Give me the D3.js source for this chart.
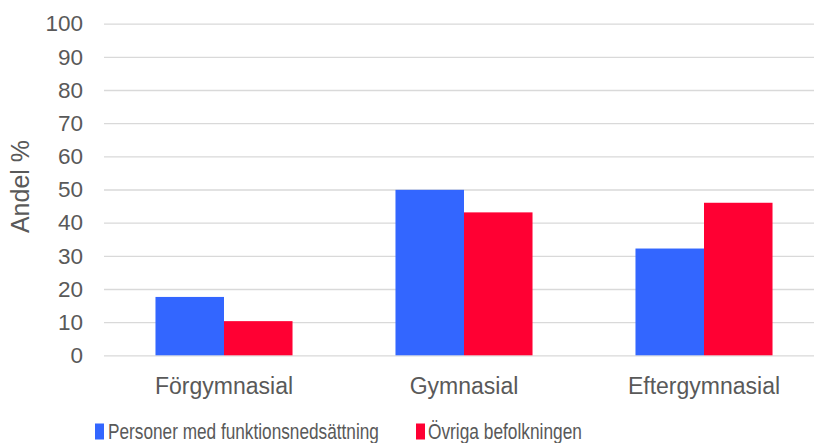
<!DOCTYPE html>
<html>
<head>
<meta charset="utf-8">
<script src="https://cdn.jsdelivr.net/npm/d3@7"></script>
<style>
  html, body { margin: 0; padding: 0; background: #fff; }
  svg { display: block; font-family: Arial, "Liberation Sans", sans-serif; }
</style>
</head>
<body>
<svg id="chart" width="814" height="443"></svg>
<script>
// Utbildningsnivå: andel (%) per grupp
const categories = ["Förgymnasial", "Gymnasial", "Eftergymnasial"];
const seriesNames = ["Personer med funktionsnedsättning", "Övriga befolkningen"];
const funktionsnedsattning = [17.6, 49.9, 32.2];
const ovriga = [10.3, 43.1, 46.0];
const yTicks = [0, 10, 20, 30, 40, 50, 60, 70, 80, 90, 100];
const colors = ["#3366FF", "#FF0033"];

const seriesValues = [funktionsnedsattning, ovriga];
const rows = categories.map((c, i) => ({
  category: c,
  values: seriesValues.map((vals, s) => ({ series: s, value: vals[i] }))
}));

const svg = d3.select("#chart");
const W = 814;
const textColor = "#595959";
const gridColor = "#D9D9D9";

const y = d3.scaleLinear().domain([0, 100]).range([355.3, 23.7]);
const x0 = d3.scaleBand().domain(categories).range([104, 824])
  .paddingInner(0.429).paddingOuter(0.2145);
const x1 = d3.scaleBand().domain([0, 1]).range([0, x0.bandwidth()]);

// Gridlines and y-axis labels
const yAxis = d3.axisLeft(y).tickValues(yTicks).tickSize(0).tickPadding(21);
const yg = svg.append("g").attr("transform", "translate(104,0)").call(yAxis);
yg.select(".domain").remove();
yg.selectAll("text")
  .attr("fill", textColor)
  .style("font-size", "22.5px")
  .attr("font-family", "Arial, 'Liberation Sans', sans-serif");
yg.selectAll(".tick").append("line")
  .attr("x1", 0).attr("x2", W - 104)
  .attr("stroke", gridColor).attr("stroke-width", 1.3);

// Bars
const groups = svg.append("g").selectAll("g")
  .data(rows).join("g")
  .attr("transform", d => `translate(${x0(d.category)},0)`);
groups.selectAll("rect")
  .data(d => d.values).join("rect")
  .attr("x", d => x1(d.series))
  .attr("width", x1.bandwidth())
  .attr("y", d => y(d.value))
  .attr("height", d => y(0) - y(d.value))
  .attr("fill", d => colors[d.series]);

// Category labels
const xAxis = d3.axisBottom(x0).tickSize(0).tickPadding(22);
const xg = svg.append("g").attr("transform", `translate(0,${y(0)})`).call(xAxis);
xg.select(".domain").remove();
xg.selectAll("text")
  .attr("fill", textColor)
  .style("font-size", "23px")
  .attr("font-family", "Arial, 'Liberation Sans', sans-serif");

// Y-axis title
svg.append("text")
  .attr("transform", "translate(28.5,186.5) rotate(-90)")
  .attr("text-anchor", "middle")
  .attr("fill", textColor)
  .style("font-size", "25px")
  .text("Andel %");

// Legend (labels are condensed horizontally to fit their slots)
const legendItems = [
  { name: seriesNames[0], color: colors[0], sx: 95, tx: 108, tw: 271 },
  { name: seriesNames[1], color: colors[1], sx: 416, tx: 428, tw: 154 }
];
const lg = svg.append("g");
legendItems.forEach(it => {
  lg.append("rect").attr("x", it.sx).attr("y", 423.5).attr("width", 9).attr("height", 16)
    .attr("fill", it.color);
  const t = lg.append("text")
    .attr("fill", textColor).style("font-size", "22px")
    .text(it.name);
  const natural = t.node().getComputedTextLength();
  t.attr("transform", `translate(${it.tx},439) scale(${it.tw / natural},1)`);
});
</script>
</body>
</html>
